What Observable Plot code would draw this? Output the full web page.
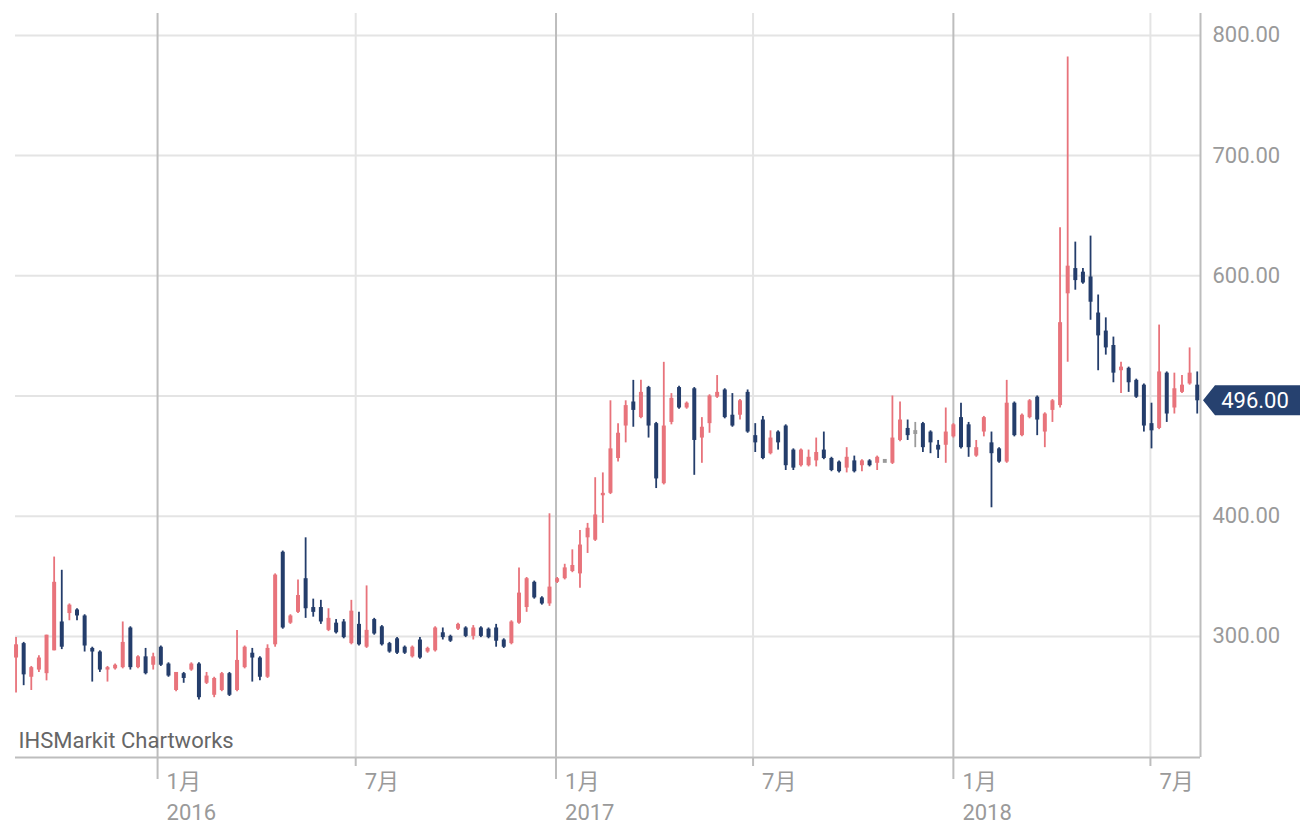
<!DOCTYPE html>
<html><head><meta charset="utf-8">
<script src="https://cdn.jsdelivr.net/npm/d3@7"></script>
<script src="https://cdn.jsdelivr.net/npm/@observablehq/plot@0.6"></script>
<style>html,body{margin:0;padding:0;background:#fff}#chart svg{display:block}</style>
</head><body><div id="chart"></div>
<script>
// Weekly candles, first week starting 2015-08-24
const startDate = "2015-08-24";
const open = [282,294,266,272,269,288,312,319,322,317,290,287,272,273,274,307,274,283,276,291,277,255,269,272,277,261,251,
255,269,255,274,286,282,266,293,370,311,320,348,324,324,305,311,312,294,310,291,314,308,294,298,
291,283,297,287,288,303,300,306,307,300,307,306,307,297,294,311,324,345,332,327,345,
348,354,352,382,380,417,419,448,475,495,482,507,477,427,478,507,490,506,465,477,499,505,
484,484,503,467,480,452,470,475,455,442,442,446,455,448,445,440,446,442,446,444,446,444,463,
473,470,477,470,459,459,466,482,476,450,470,461,456,445,494,467,482,499,470,488,
492,585,606,603,599,569,554,542,521,523,513,509,477,473,519,490,503,510,509];
const high = [299,295,275,284,301,366,355,327,323,318,291,288,275,277,312,308,284,290,286,292,278,270,270,278,278,270,266,
270,270,305,292,290,283,293,352,371,318,347,382,331,330,323,314,314,330,320,342,315,309,295,299,
292,292,299,291,308,307,301,311,308,309,308,307,310,298,313,357,349,346,333,402,349,
360,372,388,394,432,436,496,477,496,513,513,508,478,528,502,508,495,507,482,501,517,506,
502,497,505,477,483,471,471,476,456,456,455,465,470,449,446,457,450,447,447,450,447,500,495,
480,478,478,471,463,490,477,494,478,463,483,470,457,513,495,485,497,500,486,497,
640,782,628,606,633,584,565,549,528,524,514,510,494,559,520,519,517,540,520];
const low = [253,259,255,270,263,288,289,313,313,287,262,270,262,272,273,272,273,268,272,275,266,254,261,271,247,260,249,
254,250,254,273,262,263,265,291,306,310,319,315,316,310,304,302,298,293,292,290,301,292,286,285,
285,282,281,286,287,297,295,305,299,297,299,298,291,290,293,310,320,331,326,325,344,
347,353,340,369,379,394,418,445,461,474,481,465,423,426,476,489,489,434,444,469,498,481,
474,480,469,453,447,451,455,438,438,441,441,441,447,437,436,436,436,437,441,438,445,443,462,
463,457,453,452,448,444,465,456,449,449,466,407,444,444,466,466,481,467,457,478,
490,528,588,593,563,521,534,511,502,503,498,470,456,472,478,485,502,509,485];
const close = [293,268,274,282,301,345,291,326,317,292,287,272,274,276,295,274,283,269,283,276,267,270,265,277,249,267,265,
269,251,280,291,282,266,290,351,307,317,334,323,320,312,315,303,299,321,293,305,302,293,287,286,
286,291,282,290,307,299,296,310,300,307,300,299,296,291,312,336,348,332,327,341,348,
357,359,376,390,401,419,456,469,492,488,503,475,431,475,498,490,494,463,474,500,503,482,
475,496,470,461,448,465,461,442,440,455,449,453,448,438,437,449,437,446,442,449,446,465,480,
467,470,457,461,455,470,476,457,457,457,482,452,445,494,467,484,496,480,485,496,
561,608,596,594,578,550,540,519,524,511,499,475,471,520,485,506,509,519,496];

const yTicks = [300, 400, 500, 600, 700, 800];
const yLabelTicks = [300, 400, 600, 700, 800]; // 500.00 is hidden behind the price tag
const yearTicks = ["2016-01-01", "2017-01-01", "2018-01-01"];
const halfTicks = ["2016-07-01", "2017-07-01", "2018-07-01"];
const monthLabels = ["1月", "7月", "1月", "7月", "1月", "7月"];
const labelTicks = ["2016-01-01", "2016-07-01", "2017-01-01", "2017-07-01", "2018-01-01", "2018-07-01"];
const yearLabels = ["2016", "2017", "2018"];
const watermark = "IHSMarkit Chartworks";

const toDate = s => new Date(s + "T00:00:00Z");
const data = open.map((o, i) => ({
  date: d3.utcDay.offset(toDate(startDate), 7 * i),
  open: o, high: high[i], low: low[i], close: close[i]
}));
const dir = d => d.close > d.open ? "up" : d.close < d.open ? "down" : "flat";

const xDomain = [new Date("2015-08-23T12:00:00Z"), new Date("2018-08-16T00:00:00Z")];
const yDomain = [199.25, 818.2];
const gridColor = "#e4e4e4";
const axisColor = "#bdbdbd";
const textColor = "#9a9a9a";
const fs = 22;

const chart = Plot.plot({
  width: 1312, height: 825,
  marginLeft: 15, marginRight: 112, marginTop: 13, marginBottom: 68,
  style: {fontFamily: "Roboto, 'Noto Sans CJK JP', sans-serif", background: "#fff", overflow: "visible"},
  x: {type: "utc", domain: xDomain, axis: null},
  y: {domain: yDomain, axis: null},
  color: {domain: ["up", "down", "flat"], range: ["#e8737b", "#243d6b", "#9a9a9a"]},
  marks: [
    Plot.gridY(yTicks, {stroke: gridColor, strokeOpacity: 1, strokeWidth: 2}),
    Plot.gridX(halfTicks.map(toDate), {stroke: gridColor, strokeOpacity: 1, strokeWidth: 2}),
    Plot.gridX(yearTicks.map(toDate), {stroke: axisColor, strokeOpacity: 1, strokeWidth: 2}),
    Plot.axisX(yearTicks.map(toDate), {tickSize: 22, tickFormat: () => "", stroke: axisColor, strokeWidth: 2}),
    Plot.axisX(halfTicks.map(toDate), {tickSize: 9, tickFormat: () => "", stroke: axisColor, strokeWidth: 2}),
    Plot.ruleY([yDomain[0]], {stroke: axisColor, strokeWidth: 2}),
    Plot.ruleX([xDomain[1]], {stroke: axisColor, strokeWidth: 2}),
    Plot.axisY(yLabelTicks, {anchor: "right", tickSize: 0, tickPadding: 12, tickFormat: d3.format(".2f"), fill: textColor, fontSize: fs}),
    Plot.text(labelTicks.map(toDate), {x: d => d, text: (d, i) => monthLabels[i], frameAnchor: "bottom", dy: 31, dx: 9, textAnchor: "start", fill: textColor, fontSize: fs}),
    Plot.text(yearTicks.map(toDate), {x: d => d, text: (d, i) => yearLabels[i], frameAnchor: "bottom", dy: 62, dx: 9, textAnchor: "start", fill: textColor, fontSize: fs}),
    Plot.ruleX(data, {x: "date", y1: "low", y2: "high", stroke: dir, strokeWidth: 1.8}),
    Plot.ruleX(data, {x: "date", y1: "open", y2: "close", stroke: dir, strokeWidth: 4}),
    Plot.dot(data.filter(d => d.open === d.close), {x: "date", y: "close", symbol: "square", r: 2.2, fill: "#9a9a9a"}),
    Plot.text([watermark], {frameAnchor: "bottom-left", dx: 3, dy: -10, textAnchor: "start", fill: "#666", fontSize: fs})
  ]
});
document.getElementById("chart").appendChild(chart);

// last-price tag on the right axis
const last = close[close.length - 1];
const ty = chart.scale("y").apply(last);
const tx = chart.scale("x").apply(xDomain[1]);
const svg = d3.select(chart);
const g = svg.append("g");
g.append("path")
  .attr("d", `M${tx + 3},${ty} L${tx + 15},${ty - 15} L${tx + 100},${ty - 15} L${tx + 100},${ty + 15} L${tx + 15},${ty + 15} Z`)
  .attr("fill", "#26416f");
g.append("text")
  .attr("x", tx + 55).attr("y", ty).attr("dy", "0.36em")
  .attr("text-anchor", "middle").attr("fill", "#fff")
  .attr("font-size", fs).attr("font-family", "Roboto, sans-serif")
  .text(d3.format(".2f")(last));
</script>
</body></html>
